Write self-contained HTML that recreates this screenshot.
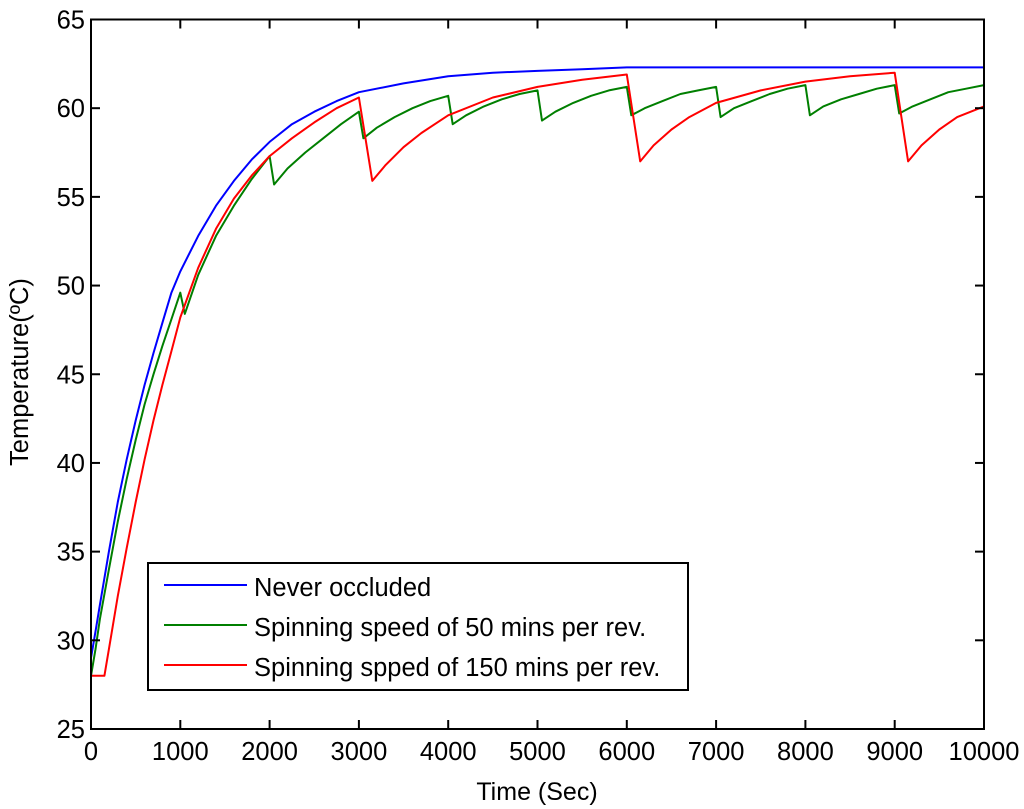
<!DOCTYPE html>
<html><head><meta charset="utf-8"><style>
body{margin:0;background:#fff;}
svg{display:block;font-family:"Liberation Sans",Arial,sans-serif;}
</style></head><body>
<svg id="chart" width="1024" height="809">
<rect x="0" y="0" width="1024" height="809" fill="#fff"/>
<g id="series"></g>
<rect x="91" y="19.5" width="893" height="709.5" fill="none" stroke="#000" stroke-width="2"/>
<g id="ticks"></g>
<text x="537" y="800" font-size="25" text-anchor="middle">Time (Sec)</text>
<text transform="translate(28,372) rotate(-90)" font-size="25.5" text-anchor="middle">Temperature(ºC)</text>
<g>
<rect x="148" y="563" width="540" height="127" fill="#fff" stroke="#000" stroke-width="2"/>
<line x1="164" y1="585" x2="247" y2="585" stroke="#0000ff" stroke-width="2"/>
<text x="254" y="596" font-size="25.5">Never occluded</text>
<line x1="164" y1="625" x2="247" y2="625" stroke="#007f00" stroke-width="2"/>
<text x="254" y="636" font-size="25.5">Spinning speed of 50 mins per rev.</text>
<line x1="164" y1="665" x2="247" y2="665" stroke="#ff0000" stroke-width="2"/>
<text x="254" y="676" font-size="25.5">Spinning spped of 150 mins per rev.</text>
</g>
</svg>
<script>
const xTicks=[0,1000,2000,3000,4000,5000,6000,7000,8000,9000,10000];
const yTicks=[25,30,35,40,45,50,55,60,65];
const blueT=[0,50,100,200,300,400,500,600,700,800,900,1000,1200,1400,1600,1800,2000,2250,2500,2750,3000,3500,4000,4500,5000,5500,6000,7000,8000,9000,10000];
const blueV=[29,30.5,32,35,37.8,40.2,42.4,44.4,46.2,47.9,49.6,50.8,52.8,54.5,55.9,57.1,58.1,59.1,59.8,60.4,60.9,61.4,61.8,62,62.1,62.2,62.3,62.3,62.3,62.3,62.3];
const greenT=[0,50,100,200,300,400,500,600,700,800,900,1000,1050,1200,1400,1600,1800,2000,2050,2200,2400,2600,2800,3000,3050,3200,3400,3600,3800,4000,4050,4200,4400,4600,4800,5000,5050,5200,5400,5600,5800,6000,6050,6200,6400,6600,6800,7000,7050,7200,7400,7600,7800,8000,8050,8200,8400,8600,8800,9000,9050,9200,9400,9600,9800,10000];
const greenV=[28,29.5,31.2,34,36.7,39.1,41.3,43.3,45,46.6,48.1,49.6,48.4,50.6,52.8,54.5,56,57.3,55.7,56.6,57.5,58.3,59.1,59.8,58.3,58.9,59.5,60,60.4,60.7,59.1,59.6,60.1,60.5,60.8,61,59.3,59.8,60.3,60.7,61,61.2,59.6,60,60.4,60.8,61,61.2,59.5,60,60.4,60.8,61.1,61.3,59.6,60.1,60.5,60.8,61.1,61.3,59.7,60.1,60.5,60.9,61.1,61.3];
const redT=[0,150,200,300,400,500,600,700,800,900,1000,1200,1400,1600,1800,2000,2250,2500,2750,3000,3150,3300,3500,3700,4000,4500,5000,5500,6000,6150,6300,6500,6700,7000,7500,8000,8500,9000,9150,9300,9500,9700,10000];
const redV=[28,28,29.5,32.5,35.2,37.8,40.2,42.4,44.4,46.3,48.2,51,53.2,54.9,56.2,57.3,58.3,59.2,60,60.6,55.9,56.8,57.8,58.6,59.6,60.6,61.2,61.6,61.9,57,57.9,58.8,59.5,60.3,61,61.5,61.8,62,57,57.9,58.8,59.5,60.1];
const X0=91,X1=984,Y0=729,Y1=19.5;
const sx=t=>X0+(t-0)/(10000-0)*(X1-X0);
const sy=v=>Y0-(v-25)/(65-25)*(Y0-Y1);
const NS="http://www.w3.org/2000/svg";
const tk=document.getElementById('ticks');
function mk(tag,attrs,parent){const e=document.createElementNS(NS,tag);for(const k in attrs)e.setAttribute(k,attrs[k]);parent.appendChild(e);return e;}
xTicks.forEach(t=>{
  const x=sx(t);
  if(t>0&&t<10000){
    const a=mk('line',{x1:x,y1:Y0,x2:x,y2:Y0-9,stroke:'#000','stroke-width':2},tk);
    
    
    const b=mk('line',{x1:x,y1:Y1,x2:x,y2:Y1+9,stroke:'#000','stroke-width':2},tk);
    
    
  }
  const l=mk('text',{x:x,y:Y0+31,'font-size':25.5,'text-anchor':'middle'},tk);
  l.textContent=t;
  
  
});
yTicks.forEach(v=>{
  const y=sy(v);
  if(v>25&&v<65){
    const a=mk('line',{x1:X0,y1:y,x2:X0+9,y2:y,stroke:'#000','stroke-width':2},tk);
    
    
    const b=mk('line',{x1:X1,y1:y,x2:X1-9,y2:y,stroke:'#000','stroke-width':2},tk);
    
    
  }
  const l=mk('text',{x:X0-6,y:y+9,'font-size':25.5,'text-anchor':'end'},tk);
  l.textContent=v;
  
  
});
const sg=document.getElementById('series');
function line(T,V,color,name){
  const d=T.map((t,i)=>(i?'L':'M')+sx(t).toFixed(1)+','+sy(V[i]).toFixed(1)).join('');
  const p=mk('path',{d:d,fill:'none',stroke:color,'stroke-width':2,'stroke-linejoin':'round'},sg);
  
  
}
line(blueT,blueV,'#0000ff','line-never-occluded');
line(greenT,greenV,'#007f00','line-50-mins');
line(redT,redV,'#ff0000','line-150-mins');
</script>
</body></html>
